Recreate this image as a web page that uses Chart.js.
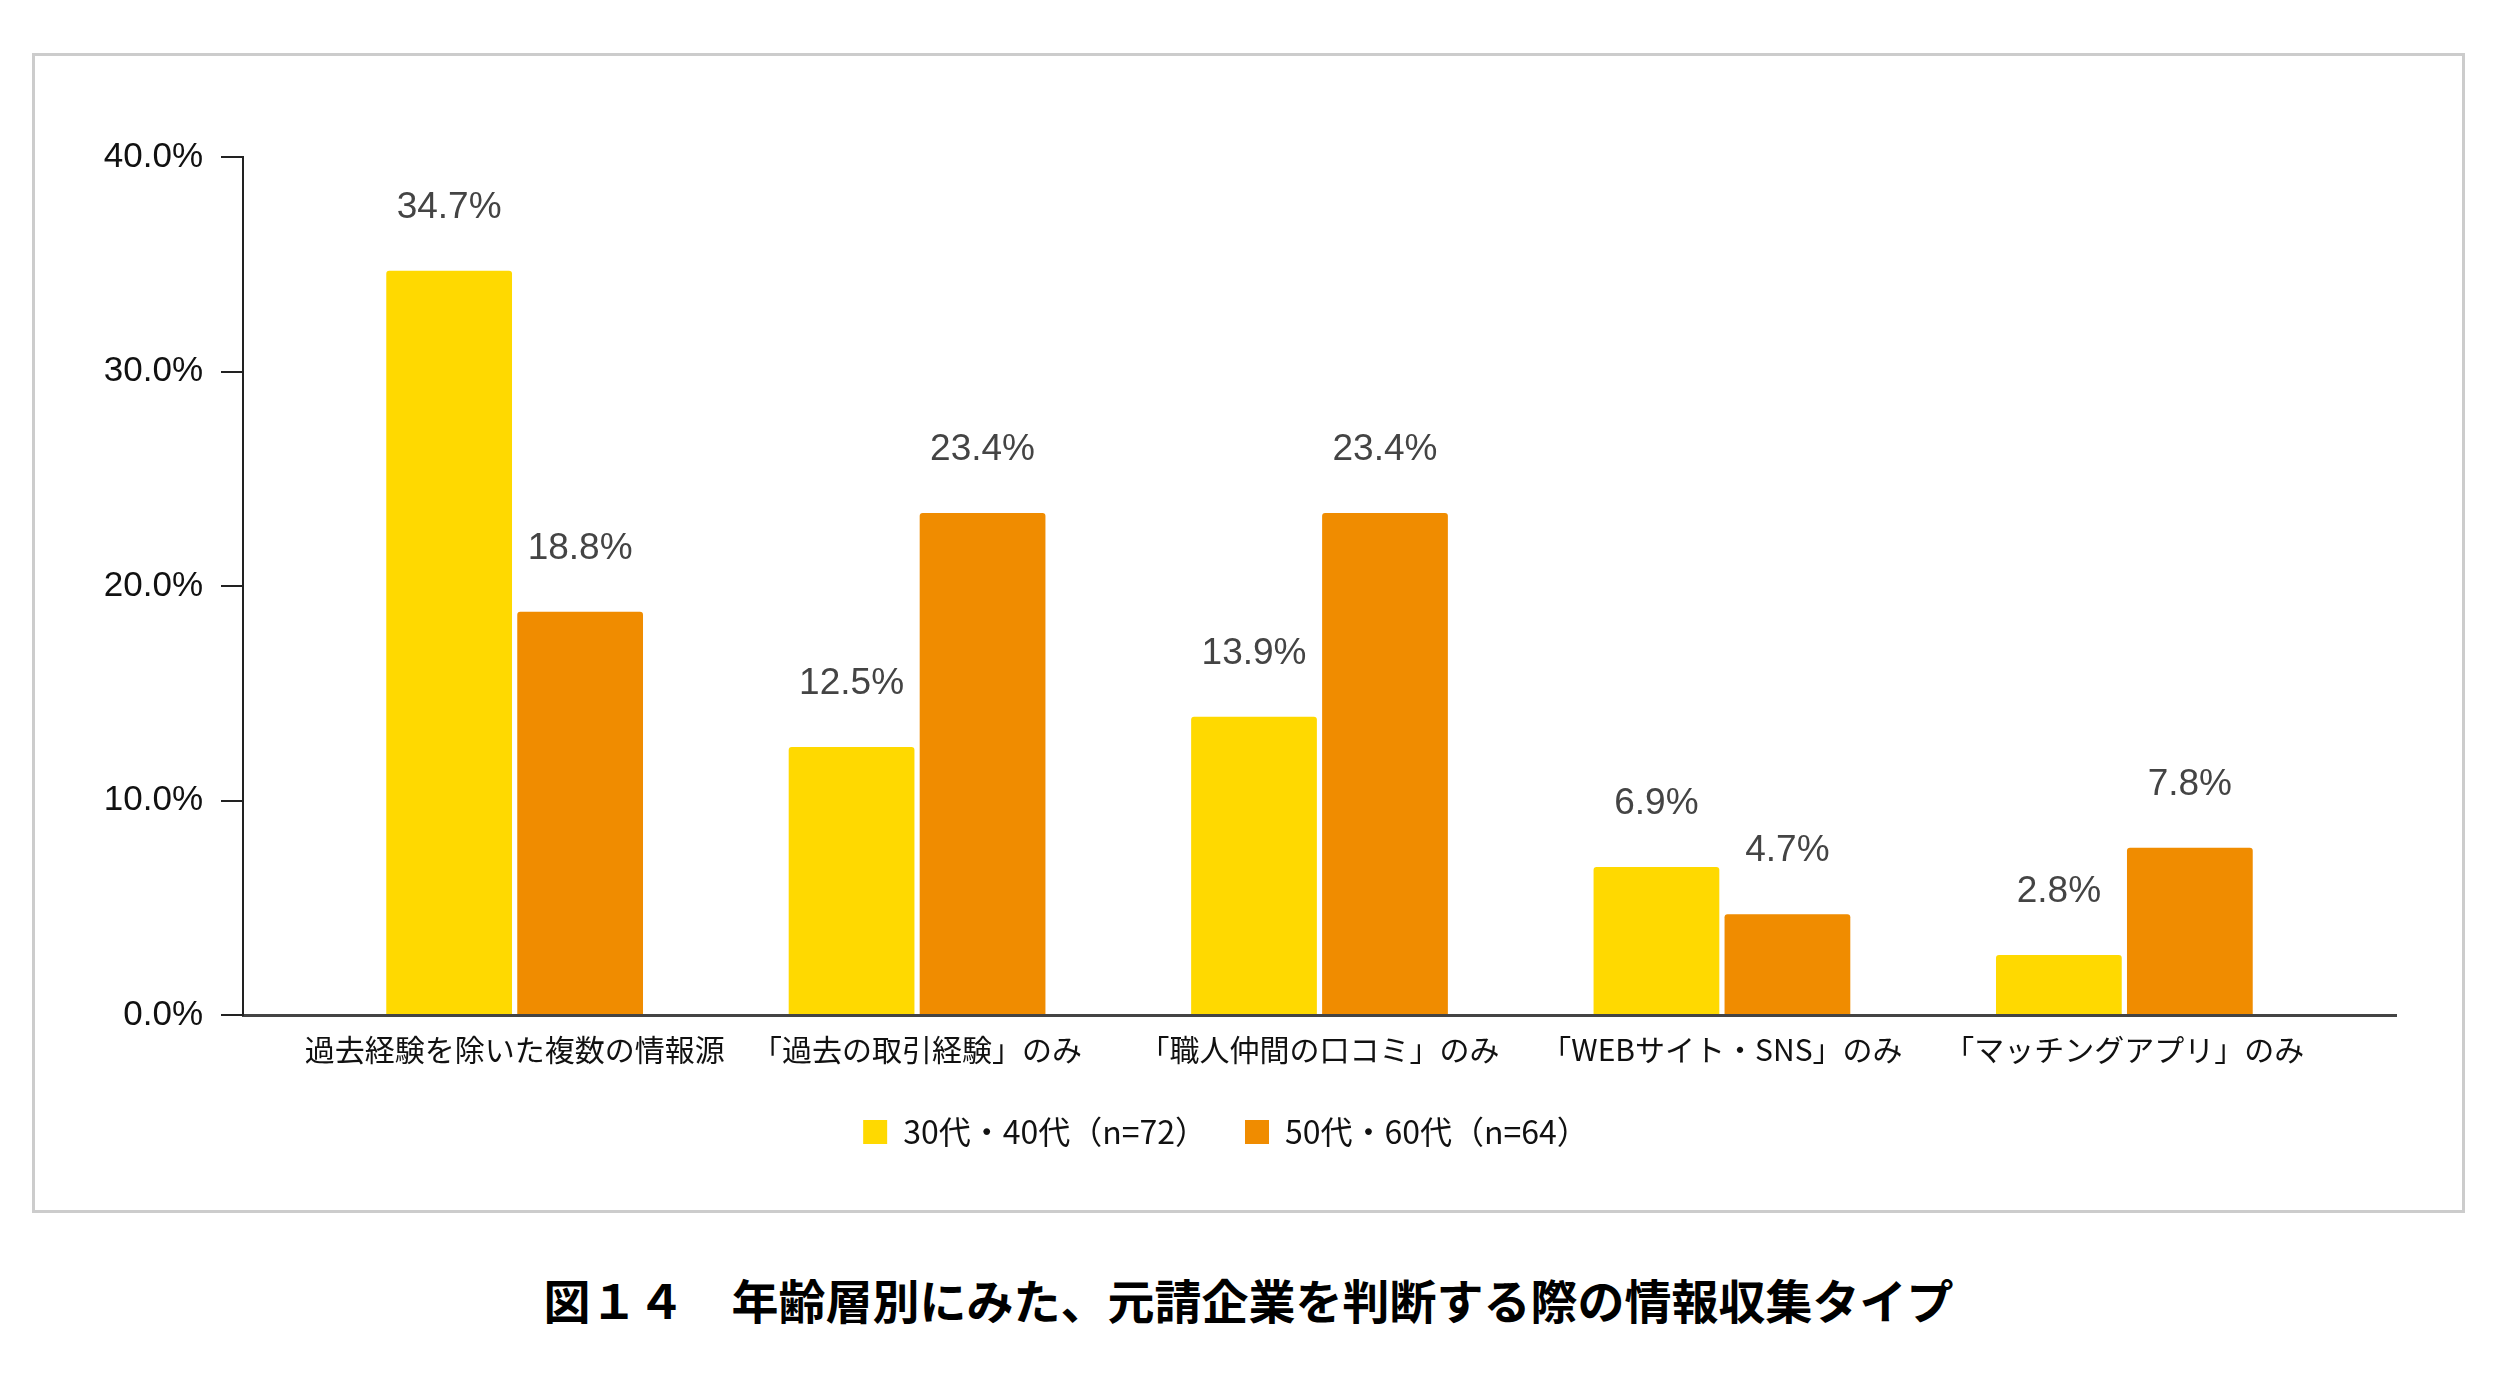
<!DOCTYPE html>
<html lang="ja">
<head>
<meta charset="utf-8">
<title>図１４ 年齢層別にみた、元請企業を判断する際の情報収集タイプ</title>
<script src="https://cdn.jsdelivr.net/npm/chart.js@4.4.1/dist/chart.umd.min.js"></script>
<style>
  html, body { margin: 0; padding: 0; background: #fff; }
  body { width: 2500px; height: 1377px; position: relative; overflow: hidden; }
  #frame {
    position: absolute; left: 32px; top: 53px;
    width: 2433px; height: 1160px;
    box-sizing: border-box; border: 3px solid #cccccc;
  }
  #chart { display: block; }
  #caption {
    position: absolute; left: 32px; width: 2433px; top: 1270px;
    text-align: center; color: #000;
    font: 700 47px "Noto Sans CJK JP", sans-serif; line-height: 58px;
  }
</style>
</head>
<body>
<div id="frame"><canvas id="chart" width="2427" height="1154"></canvas></div>
<div id="caption">図１４　年齢層別にみた、元請企業を判断する際の情報収集タイプ</div>
<script>
// 回答カテゴリ
const categories = [
  "過去経験を除いた複数の情報源",
  "「過去の取引経験」のみ",
  "「職人仲間の口コミ」のみ",
  "「WEBサイト・SNS」のみ",
  "「マッチングアプリ」のみ",
];

// 年齢層ごとの割合（%）
const seriesNames = ["30代・40代（n=72）", "50代・60代（n=64）"];
const age3040 = [34.7, 12.5, 13.9, 6.9, 2.8];
const age5060 = [18.8, 23.4, 23.4, 4.7, 7.8];

const jpFont = '"Noto Sans CJK JP", sans-serif';
const numFont = '"Liberation Sans", Arial, sans-serif';

// x 軸の両端に少し余白をとる（カテゴリ幅に対する割合）
const sidePad = 0.175;

// 棒の上に値を表示
const valueLabels = {
  id: "valueLabels",
  afterDatasetsDraw(chart) {
    const ctx = chart.ctx;
    ctx.save();
    ctx.font = "37px " + numFont;
    ctx.fillStyle = "#444444";
    ctx.textAlign = "center";
    ctx.textBaseline = "middle";
    chart.data.datasets.forEach((ds, i) => {
      chart.getDatasetMeta(i).data.forEach((bar, j) => {
        ctx.fillText(ds.data[j].toFixed(1) + "%", bar.x, bar.y - 63);
      });
    });
    ctx.restore();
  },
};

const ctx = document.getElementById("chart").getContext("2d");

new Chart(ctx, {
  type: "bar",
  data: {
    labels: categories,
    datasets: [
      {
        label: seriesNames[0],
        data: age3040,
        backgroundColor: "#FFD900",
        borderWidth: 0,
        borderRadius: { topLeft: 3, topRight: 3 },
        borderSkipped: "start",
        categoryPercentage: 0.651,
        barPercentage: 0.96,
      },
      {
        label: seriesNames[1],
        data: age5060,
        backgroundColor: "#F08C00",
        borderWidth: 0,
        borderRadius: { topLeft: 3, topRight: 3 },
        borderSkipped: "start",
        categoryPercentage: 0.651,
        barPercentage: 0.96,
      },
    ],
  },
  options: {
    responsive: false,
    animation: false,
    devicePixelRatio: 1,
    layout: { padding: { left: 21, right: 66, top: 101, bottom: 52 } },
    plugins: {
      legend: {
        position: "bottom",
        labels: {
          boxWidth: 24,
          boxHeight: 24,
          padding: 38,
          color: "#111111",
          font: { size: 32, family: jpFont },
        },
      },
      tooltip: { enabled: false },
    },
    scales: {
      x: {
        afterBuildTicks: (scale) => {
          scale._startValue -= sidePad;
          scale._valueRange += 2 * sidePad;
        },
        afterFit: (scale) => {
          scale.height = 63;
        },
        grid: { display: false, drawTicks: false },
        border: { display: true, color: "#444444", width: 3 },
        ticks: {
          color: "#111111",
          padding: 17,
          maxRotation: 0,
          autoSkip: false,
          font: { size: 30, family: jpFont },
        },
      },
      y: {
        min: 0,
        max: 40,
        afterFit: (scale) => {
          scale.width = 187;
        },
        ticks: {
          stepSize: 10,
          padding: 18,
          color: "#111111",
          font: { size: 35, family: numFont },
          callback: (v) => v.toFixed(1) + "%",
        },
        grid: {
          drawOnChartArea: false,
          drawTicks: true,
          tickLength: 22,
          color: "#222222",
          lineWidth: 2,
        },
        border: { display: true, color: "#222222", width: 2 },
      },
    },
  },
  plugins: [valueLabels],
});
</script>
</body>
</html>
